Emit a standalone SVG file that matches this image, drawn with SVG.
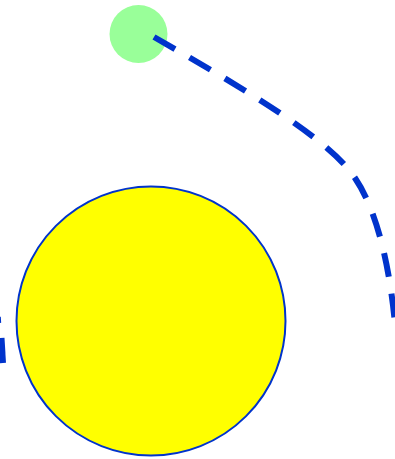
<svg xmlns="http://www.w3.org/2000/svg" width="395" height="459" viewBox="0 0 395 459">
  <style>
    .orbit { fill: none; stroke: #0033cc; stroke-width: 6; stroke-dasharray: 24 17; }
    .solid { stroke-dasharray: none; }
  </style>
  <rect width="395" height="459" fill="#ffffff"/>
  <g id="sun">
    <circle cx="151" cy="321" r="134.5" fill="#ffff00" stroke="#0033cc" stroke-width="2"/>
  </g>
  <g id="planet">
    <circle cx="138.5" cy="34" r="29" fill="#99ff99"/>
  </g>
  <g id="connectors">
    <path class="orbit" d="M154,37 C250,92 330,140 355,178 C378,212 390,270 395,324"/>
    <path class="orbit solid" d="M-2.2,317 L-1.8,323"/>
    <path class="orbit solid" d="M1.5,338 L3,363"/>
  </g>
</svg>
